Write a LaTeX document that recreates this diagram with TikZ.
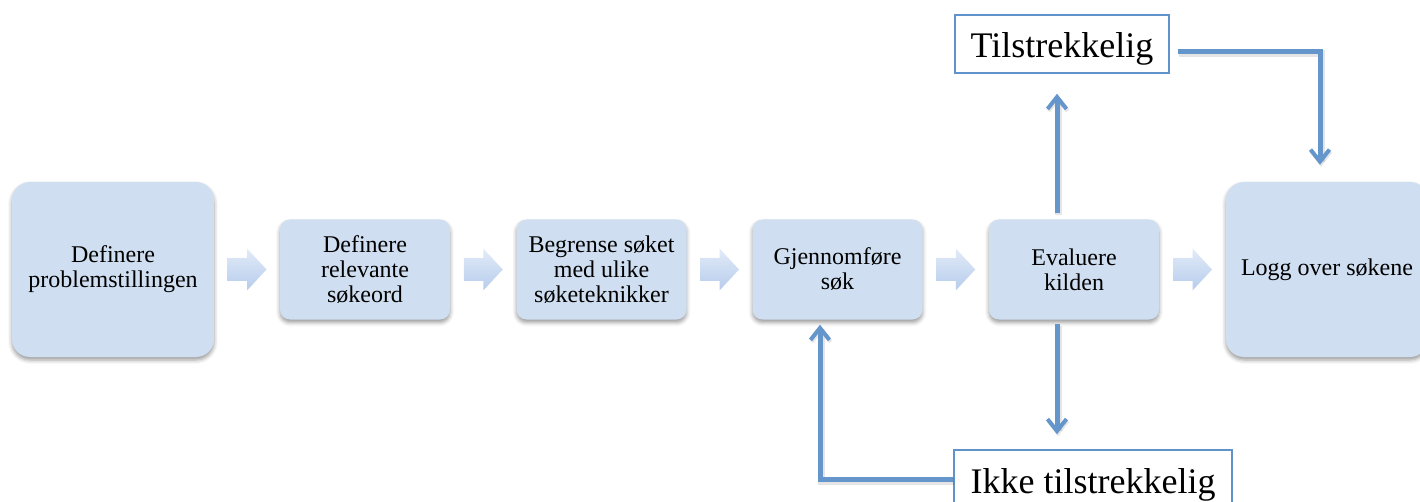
\documentclass[tikz,border=0pt]{standalone}
\usepackage{fontspec}
\setmainfont{Liberation Serif}
\usetikzlibrary{arrows.meta,shadows.blur,calc}

\definecolor{boxfill}{RGB}{207,223,241}
\definecolor{linkblue}{RGB}{100,150,204}
\definecolor{frameblue}{RGB}{96,146,203}
\definecolor{chevtop}{RGB}{226,235,248}
\definecolor{chevbot}{RGB}{182,204,236}

\begin{document}
\begin{tikzpicture}[x=1pt,y=-1pt,
  stepbox/.style={draw=none, fill=boxfill, rounded corners=10pt, align=center,
    font=\fontsize{24}{25}\selectfont, minimum width=170pt, minimum height=100pt,
    inner sep=0pt,
    blur shadow={shadow xshift=0pt, shadow yshift=-3pt, shadow blur radius=4pt,
      shadow opacity=40}},
  bigbox/.style={stepbox, rounded corners=18pt, minimum width=202pt, minimum height=175pt},
  verdict/.style={draw=frameblue, line width=1.5pt, fill=white,
    font=\fontsize{36}{36}\selectfont, inner sep=0pt},
  link/.style={draw=linkblue, line width=5pt,
    -{Straight Barb[length=12pt,width=19pt,line width=4pt]},
    preaction={draw=black, draw opacity=0.10, line width=7pt,
      transform canvas={xshift=1pt,yshift=-2pt}}},
  chev/.pic={
    \path[top color=chevtop, bottom color=chevbot]
      (-19.5,-11.5) -- (0,-11.5) -- (0,-21) -- (19.5,0) -- (0,21)
      -- (0,11.5) -- (-19.5,11.5) -- cycle;
  }
]
\useasboundingbox (0,0) rectangle (1420,502);

% process steps
\node[bigbox]  (def)  at (113,269.5)   {Definere\\problemstillingen};
\node[stepbox] (kw)   at (365,269.5)   {Definere\\relevante\\søkeord};
\node[stepbox] (lim)  at (601.5,269.5) {Begrense søket\\med ulike\\søketeknikker};
\node[stepbox] (run)  at (837.5,269.5) {Gjennomføre\\søk};
\node[stepbox] (eval) at (1074,269.5)  {Evaluere\\kilden};
\node[bigbox]  (log)  at (1327,269.5)  {Logg over søkene};

% block arrows between the steps
\pic at ($(def.east)!0.5!(kw.west)$)   {chev};
\pic at ($(kw.east)!0.5!(lim.west)$)   {chev};
\pic at ($(lim.east)!0.5!(run.west)$)  {chev};
\pic at ($(run.east)!0.5!(eval.west)$) {chev};
\pic at ($(eval.east)!0.5!(log.west)$) {chev};

% outcomes of the evaluation
\node[verdict, minimum width=214pt, minimum height=58pt,
      text height=34pt, text depth=6pt] (ok) at (1062,44) {Tilstrekkelig};
\node[verdict, minimum width=278pt, minimum height=70pt,
      text height=26pt, text depth=10pt] (notok) at (1093,485) {Ikke tilstrekkelig};

% feedback connectors
\draw[link, shorten <=6pt, shorten >=20pt]
  ([xshift=-17pt]eval.north) -- ([xshift=-17pt]eval.north |- ok.south);
\draw[link, shorten <=4pt, shorten >=15pt]
  ([xshift=-17pt]eval.south) -- ([xshift=-17pt]eval.south |- notok.north);
\draw[link, shorten <=8pt, shorten >=17pt]
  ([yshift=-8pt]ok.east) -| ([xshift=-7pt]log.north);
\draw[link, shorten >=5pt]
  ([yshift=6pt]notok.west) -| ([xshift=-17.5pt]run.south);
\end{tikzpicture}
\end{document}
